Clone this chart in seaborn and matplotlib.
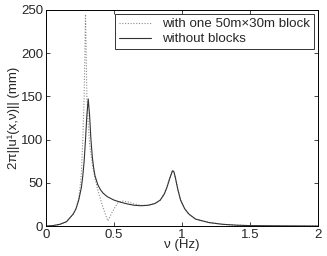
import pandas as pd
import seaborn as sns
import matplotlib.pyplot as plt

# frequency (Hz) and amplitude (mm)
nu_without = [0.0, 0.05, 0.1, 0.15, 0.2, 0.22, 0.24, 0.26, 0.27, 0.28, 0.29, 0.30, 0.31,
              0.32, 0.33, 0.34, 0.35, 0.36, 0.38, 0.40, 0.42, 0.45, 0.50, 0.55, 0.60,
              0.65, 0.70, 0.75, 0.80, 0.84, 0.87, 0.89, 0.91, 0.93, 0.94, 0.95, 0.97,
              0.99, 1.02, 1.05, 1.10, 1.20, 1.30, 1.40, 1.50, 1.75, 2.0]
amp_without = [0.0, 0.5, 2, 5, 14, 20, 30, 45, 58, 75, 100, 128, 147,
               128, 100, 80, 67, 58, 48, 42, 38, 34, 30, 27.5, 25.5,
               24, 23.5, 24, 26, 30, 37, 45, 55, 64, 63, 57, 42,
               30, 20, 14, 8, 4, 2, 1, 0.5, 0.2, 0.0]

nu_block = [0.0, 0.05, 0.1, 0.15, 0.2, 0.22, 0.24, 0.25, 0.26, 0.27, 0.28, 0.285, 0.29,
            0.295, 0.30, 0.31, 0.32, 0.34, 0.36, 0.38, 0.40, 0.42, 0.44, 0.455, 0.47,
            0.50, 0.53, 0.56, 0.60, 0.65, 0.70, 0.75, 0.80, 0.84, 0.87, 0.89, 0.91,
            0.93, 0.94, 0.95, 0.97, 0.99, 1.02, 1.05, 1.10, 1.20, 1.30, 1.40, 1.50,
            1.75, 2.0]
amp_block = [0.0, 0.5, 1.5, 5, 14, 20, 32, 45, 62, 100, 150, 195, 245,
             200, 150, 118, 95, 72, 55, 42, 31, 21, 12, 6, 11,
             20, 27, 29, 28, 25.5, 24, 24, 26, 30, 38, 46, 56,
             64, 63, 57, 42, 30, 20, 14, 8, 4, 2, 1, 0.5,
             0.2, 0.0]

labels = ["with one 50m\u00d730m block", "without blocks"]

df = pd.concat([
    pd.DataFrame({"nu": nu_block, "amp": amp_block, "case": labels[0]}),
    pd.DataFrame({"nu": nu_without, "amp": amp_without, "case": labels[1]}),
])

sns.set_style("white")
plt.rcParams["font.family"] = ["Liberation Sans", "DejaVu Sans"]

fig = plt.figure(figsize=(3.27, 2.56), dpi=100)
ax = fig.add_axes([0.141, 0.117, 0.831, 0.844])

sns.lineplot(data=df, x="nu", y="amp", hue="case", style="case",
             palette={labels[0]: "#8c8c8c", labels[1]: "#333333"},
             dashes={labels[0]: (1, 1.5), labels[1]: ""},
             linewidth=0.8, sort=False, ax=ax)

ax.set_xlim(0, 2)
ax.set_ylim(0, 250)
ax.set_xticks([0, 0.5, 1, 1.5, 2])
ax.set_xticklabels(["0", "0.5", "1", "1.5", "2"])
ax.set_yticks([0, 50, 100, 150, 200, 250])
ax.tick_params(direction="in", length=3, width=0.6, labelsize=9.5,
               top=True, right=True, bottom=True, left=True, pad=2)
for s in ax.spines.values():
    s.set_color("black")
    s.set_linewidth(0.7)
ax.set_xlabel("\u03bd (Hz)", fontsize=9.5, labelpad=-1)
ax.set_ylabel("2\u03c0||u\u00b9(x,\u03bd)|| (mm)", fontsize=9.5, labelpad=1)

leg = ax.legend(loc="upper right", fontsize=9.6, frameon=True, fancybox=False,
                borderaxespad=0.3, handlelength=2.4, borderpad=0.3,
                labelspacing=0.2, handletextpad=0.8)
leg.get_frame().set_edgecolor("black")
leg.get_frame().set_linewidth(0.7)
leg.set_title(None)

fig.savefig("out.png", dpi=100)
